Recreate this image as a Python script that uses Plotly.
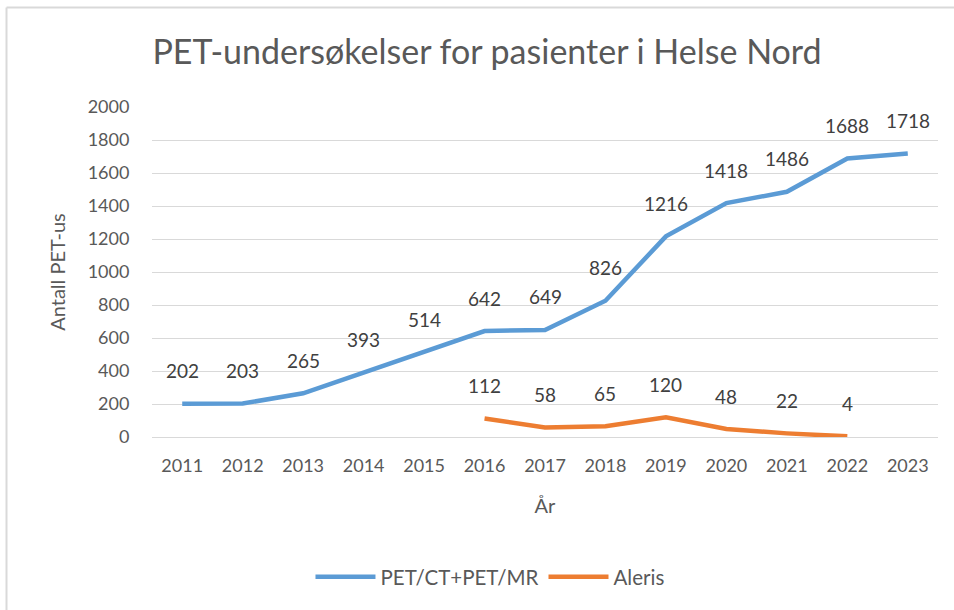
import plotly.graph_objects as go

years = [2011, 2012, 2013, 2014, 2015, 2016, 2017, 2018, 2019, 2020, 2021, 2022, 2023]
pet_ct_mr = [202, 203, 265, 393, 514, 642, 649, 826, 1216, 1418, 1486, 1688, 1718]
aleris_years = [2016, 2017, 2018, 2019, 2020, 2021, 2022]
aleris = [112, 58, 65, 120, 48, 22, 4]

FONT = "Lato, 'Open Sans', sans-serif"
GREY = "#595959"
LBL = "#404040"
BLUE = "#5B9BD5"
ORANGE = "#ED7D31"

fig = go.Figure()
fig.add_trace(go.Scatter(x=years, y=pet_ct_mr, mode="lines",
                         name="PET/CT+PET/MR", line=dict(color=BLUE, width=4.5)))
fig.add_trace(go.Scatter(x=aleris_years, y=aleris, mode="lines",
                         name="Aleris", line=dict(color=ORANGE, width=4.5)))

annotations = []
for xs, ys in ((years, pet_ct_mr), (aleris_years, aleris)):
    for x, y in zip(xs, ys):
        annotations.append(dict(x=x, y=y, text=str(y), showarrow=False,
                                yshift=33, font=dict(family=FONT, size=19, color=LBL)))

ml, mr, mt, mb = 152, 16, 107, 173
W, H = 954, 610
pw, ph = W - ml - mr, H - mt - mb
left = (6.5 - ml) / pw
top = 1 + (mt - 7.5) / ph
right = (W - ml) / pw
bottom = (H - mt - ph - H) / ph

fig.update_layout(
    width=W, height=H,
    margin=dict(l=ml, r=mr, t=mt, b=mb),
    paper_bgcolor="white", plot_bgcolor="white",
    font=dict(family=FONT, color=GREY),
    title=dict(text="PET-undersøkelser for pasienter i Helse Nord", x=487 / W, xanchor="center",
               y=1 - 52 / H, yanchor="middle", font=dict(family=FONT, size=34, color=GREY)),
    xaxis=dict(range=[years[0] - 0.5, years[-1] + 0.5], dtick=1, showgrid=False, zeroline=False,
               showline=True, linecolor="#D9D9D9", linewidth=1,
               ticks="outside", ticklen=12, tickcolor="rgba(0,0,0,0)",
               tickfont=dict(family=FONT, size=18, color=GREY),
               title=dict(text="År", font=dict(family=FONT, size=20, color=GREY), standoff=24)),
    yaxis=dict(range=[0, 2000], dtick=200, showgrid=True, gridcolor="#D9D9D9", gridwidth=1,
               zeroline=False, ticks="outside", ticklen=18, tickcolor="rgba(0,0,0,0)",
               tickfont=dict(family=FONT, size=18, color=GREY),
               title=dict(text="Antall PET-us", font=dict(family=FONT, size=20, color=GREY), standoff=16)),
    legend=dict(orientation="h", x=0.43, xanchor="center", y=(437 - 577) / ph, yanchor="middle",
                font=dict(family=FONT, size=20.5, color=GREY), itemwidth=60),
    annotations=annotations,
    shapes=[
        dict(type="line", xref="paper", yref="paper", x0=left, x1=right, y0=top, y1=top,
             line=dict(color="#D9D9D9", width=2)),
        dict(type="line", xref="paper", yref="paper", x0=left, x1=left, y0=top, y1=bottom,
             line=dict(color="#D9D9D9", width=2)),
    ],
)

fig.write_html("out.html")
